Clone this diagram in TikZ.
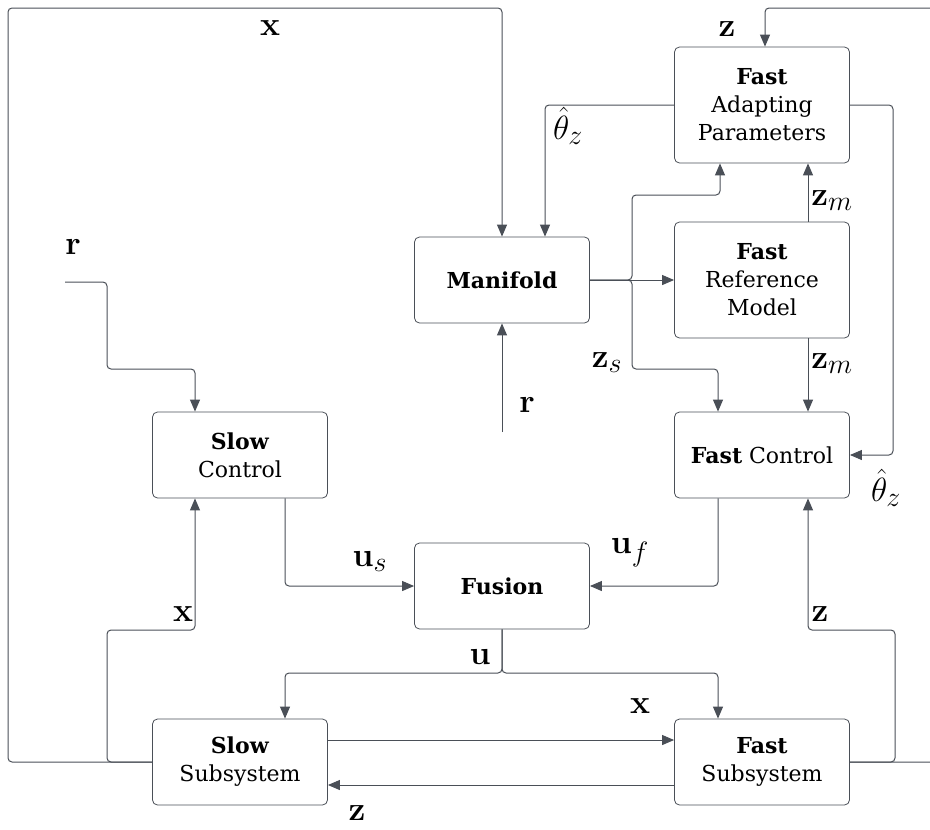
\RequirePackage{fix-cm}
\documentclass[tikz,border=0pt]{standalone}
\usepackage[no-math]{fontspec}
\setmainfont{DejaVu Serif}
\usepackage{tikz}
\usetikzlibrary{positioning}
\usetikzlibrary{arrows.meta}
\definecolor{linegray}{HTML}{4A4F57}
\tikzset{edge/.style = {->,> = {Triangle[length=12pt,width=10pt]}, draw=linegray, line width=1pt, rounded corners=4pt}}
\newcommand{\lbl}[1]{\scalebox{1.35}{$#1$}}

\begin{document}
\begin{tikzpicture}[x=1pt,y=-1pt,
    block/.style={draw=linegray,line width=0.8pt,rounded corners=5pt,minimum width=175pt,minimum height=86pt,align=center,font=\fontsize{22}{28}\selectfont},
    tall/.style={block,minimum height=116pt},
    lab/.style={inner sep=0pt,font=\fontsize{24.88}{26}\selectfont}]
                \useasboundingbox (0,0) rectangle (930,830);
                \clip (0,0) rectangle (930,830);

                \node[block] (fc) at (762,455) {\textbf{Fast} Control};
                \node[tall] (frm) [above of=fc, node distance=175pt] {\textbf{Fast}\\Reference\\Model};
                \node[tall] (fap) [above of=frm, node distance=175pt] {\textbf{Fast}\\Adapting\\Parameters};
                \node[block] (man) [left of=frm, node distance=260pt] {\textbf{Manifold}};
                \node[block] (sc) at (240,455) {\textbf{Slow}\\Control};
                \node[block] (fus) at (502,586) {\textbf{Fusion}};
                \node[block] (ss) at (240,762) {\textbf{Slow}\\Subsystem};
                \node[block] (fs) [right of=ss, node distance=522pt] {\textbf{Fast}\\Subsystem};

                \coordinate (rin) at (65,282);
                \coordinate (rman) at (502,432);
                \coordinate (usplit) at (502,673);

                % slow state x
                \draw[edge] (ss.west) -| (8,8) -| (man.north);
                \draw[edge] (ss.west) -| (107,630) -| ([xshift=-45pt]sc.south);
                \draw[edge] ([yshift=22pt]ss.east) -- ([yshift=22pt]fs.west);
                % fast state z
                \draw[edge] ([yshift=-23pt]fs.west) -- ([yshift=-23pt]ss.east);
                \draw[edge] (fs.east) -| (945,8) -| ([xshift=3pt]fap.north);
                \draw[edge] (fs.east) -| (895,630) -| ([xshift=46pt]fc.south);
                % control
                \draw[edge] ([xshift=45pt]sc.south) |- (fus.west);
                \draw[edge] ([xshift=-44pt]fc.south) |- (fus.east);
                \draw[edge] (fus.south) -- (usplit) -| ([xshift=45pt]ss.north);
                \draw[edge] (fus.south) -- (usplit) -| ([xshift=-44pt]fs.north);
                % reference r
                \draw[edge] (rin) -| (107,369) -| ([xshift=-45pt]sc.north);
                \draw[edge] (rman) -- (man.south);
                % manifold z_s
                \draw[edge] (man.east) -- (frm.west);
                \draw[edge] (man.east) -| (632,195) -| ([xshift=-42pt]fap.south);
                \draw[edge] (man.east) -| (632,369) -| ([xshift=-44pt]fc.north);
                % reference model z_m
                \draw[edge] ([xshift=46pt]frm.north) -- ([xshift=46pt]fap.south);
                \draw[edge] ([xshift=46pt]frm.south) -- ([xshift=46pt]fc.north);
                % parameters
                \draw[edge] (fap.west) -| ([xshift=43pt]man.north);
                \draw[edge] (fap.east) -| (893,455) -- (fc.east);

                \node[lab] (lx1) at (270,28) {\lbl{\mathbf{x}}};
                \node[lab] (lx2) at (183,614) {\lbl{\mathbf{x}}};
                \node[lab] (lx3) at (640,706) {\lbl{\mathbf{x}}};
                \node[lab] (lz1) at (357,813) {\lbl{\mathbf{z}}};
                \node[lab] (lz2) at (727,29) {\lbl{\mathbf{z}}};
                \node[lab] (lz3) at (820,614) {\lbl{\mathbf{z}}};
                \node[lab] (lu) at (480,657) {\lbl{\mathbf{u}}};
                \node[lab] (lus) at (370,562) {\lbl{\mathbf{u}_s}};
                \node[lab] (luf) at (630,553) {\lbl{\mathbf{u}_f}};
                \node[lab] (lr1) at (73,247) {\lbl{\mathbf{r}}};
                \node[lab] (lr2) at (527,405) {\lbl{\mathbf{r}}};
                \node[lab] (lzs) at (607,363) {\lbl{\mathbf{z}_s}};
                \node[lab] (lzm1) at (832,201) {\lbl{\mathbf{z}_m}};
                \node[lab] (lzm2) at (832,364) {\lbl{\mathbf{z}_m}};
                \node[lab] (lth1) at (568,126) {\lbl{\hat{\theta}_z}};
                \node[lab] (lth2) at (886,488) {\lbl{\hat{\theta}_z}};
            \end{tikzpicture}
\end{document}
